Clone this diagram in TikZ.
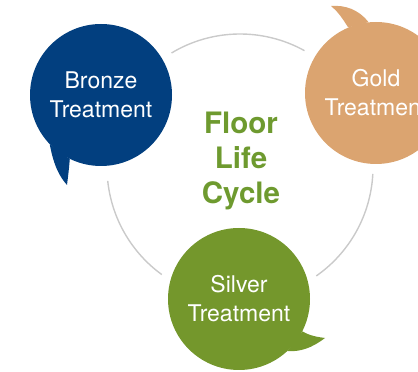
\documentclass[tikz,border=0pt]{standalone}
\usepackage{fontspec}
\setmainfont{TeX Gyre Heros}
\usepackage{tikz}

\definecolor{bronzeblue}{HTML}{023F7F}
\definecolor{goldtan}{HTML}{DBA470}
\definecolor{silvergreen}{HTML}{74972C}
\definecolor{titlegreen}{HTML}{6E9A2F}
\definecolor{ringgray}{HTML}{CACACA}

\tikzset{
  bubble/.style={circle, minimum size=142pt, inner sep=0pt, align=center,
    text=white, font=\fontsize{23}{29}\selectfont},
  ring/.style={ringgray, line width=1.4pt}
}

\begin{document}
\begin{tikzpicture}[x=1pt, y=1pt]
        \clip (0,0) rectangle (418,372);

        % Ring (centre of the cycle)
        \coordinate (C) at (240,205);
        \draw[ring] ([shift={(61:133pt)}]C) arc (61:121:133pt);
        \draw[ring] ([shift={(186:133pt)}]C) arc (186:234:133pt);
        \draw[ring] ([shift={(-55:133pt)}]C) arc (-55:-3:133pt);

        % Nodes (treatments)
        \node[bubble, fill=bronzeblue] (B) at (101,277) {Bronze\\Treatment};
        \node[bubble, fill=goldtan] (G) at (376,279) {Gold\\Treatment};
        \node[bubble, fill=silvergreen] (S) at (239,73) {Silver\\Treatment};

        % Title
        \node[align=center, text=titlegreen, font=\fontsize{29.5}{35}\selectfont\bfseries]
          (T) at (241,211) {Floor\\Life\\Cycle};

        % Tips of the speech tails
        \coordinate (Btip) at (67,187);
        \coordinate (Gtip) at (331,366);
        \coordinate (Stip) at (325,34);

        % Speech tails
        \fill[bronzeblue] (B.224) .. controls (54,205) and (60,195) .. (Btip)
          .. controls (68,195) and (69,203) .. (B.244) -- cycle;
        \fill[goldtan] (G.113) .. controls (341,356) and (337,361) .. (Gtip)
          .. controls (345,367) and (358,363) .. (G.96) -- cycle;
        \fill[silvergreen] (S.333) .. controls (310,36) and (318,35) .. (Stip)
          .. controls (312,24) and (300,20) .. (S.313) -- cycle;

    \end{tikzpicture}
\end{document}
